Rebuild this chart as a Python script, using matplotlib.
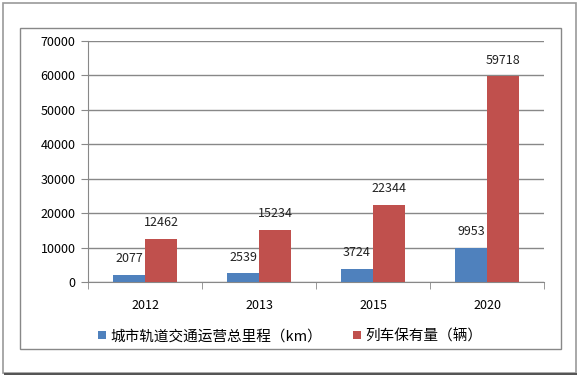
import matplotlib
matplotlib.use("Agg")
from matplotlib import pyplot as plt
from matplotlib.patches import Rectangle
import numpy as np

plt.rcParams['font.family'] = ['Noto Sans CJK SC', 'DejaVu Sans']

years = ["2012", "2013", "2015", "2020"]
mileage = [2077, 2539, 3724, 9953]
trains = [12462, 15234, 22344, 59718]
series_names = ["城市轨道交通运营总里程（km）", "列车保有量（辆）"]
y_ticks = [0, 10000, 20000, 30000, 40000, 50000, 60000, 70000]

W, H = 586, 378
fig = plt.figure(figsize=(W / 100, H / 100), dpi=100)

# outer picture frame with shadow
fig.patches.append(Rectangle((3 / W, 1 - 373 / H), 573 / W, 370 / H, transform=fig.transFigure,
                             facecolor="none", edgecolor="#999999", lw=1.2))
fig.patches.append(Rectangle((4 / W, 1 - 375 / H), 573 / W, 2.5 / H, transform=fig.transFigure,
                             facecolor="#555555", edgecolor="none"))
# chart area border
fig.patches.append(Rectangle((20 / W, 1 - 349 / H), 541 / W, 321 / H, transform=fig.transFigure,
                             facecolor="none", edgecolor="#888888", lw=1.0))

ax = fig.add_axes([88 / W, 1 - 282 / H, (544 - 88) / W, (282 - 41) / H])

x = np.arange(len(years))
bw = 0.28
b1 = ax.bar(x - bw / 2, mileage, bw, color="#4F81BD", label=series_names[0], zorder=3)
b2 = ax.bar(x + bw / 2, trains, bw, color="#C0504D", label=series_names[1], zorder=3)

for rect, v in zip(list(b1) + list(b2), mileage + trains):
    ax.annotate(str(v), (rect.get_x() + rect.get_width() / 2, v), xytext=(0, 7),
                textcoords="offset points", ha="center", va="bottom",
                fontsize=9, color="#222222")

ax.set_xlim(-0.5, len(years) - 0.5)
ax.set_ylim(0, 70000)
ax.set_yticks(y_ticks)
ax.set_yticklabels([str(t) for t in y_ticks], fontsize=9)
ax.yaxis.grid(True, color="#888888", lw=1.0, zorder=0)

ax.set_xticks(x)
ax.set_xticklabels(years, fontsize=9)
ax.set_xticks(np.arange(len(years) + 1) - 0.5, minor=True)
ax.tick_params(axis="x", which="major", length=0, pad=12)
ax.tick_params(axis="x", which="minor", length=5, color="#888888")
ax.tick_params(axis="y", length=5, color="#888888", pad=4)

for side in ["top", "right"]:
    ax.spines[side].set_visible(False)
for side in ["left", "bottom"]:
    ax.spines[side].set_color("#888888")

fig.legend(handles=[b1, b2], loc="center left", bbox_to_anchor=(92 / W, 1 - 336 / H),
           ncol=2, frameon=False, fontsize=10.5, handlelength=0.55, handleheight=0.55,
           handletextpad=0.3, columnspacing=2.1, borderaxespad=0)

fig.savefig("out.png", dpi=100)
